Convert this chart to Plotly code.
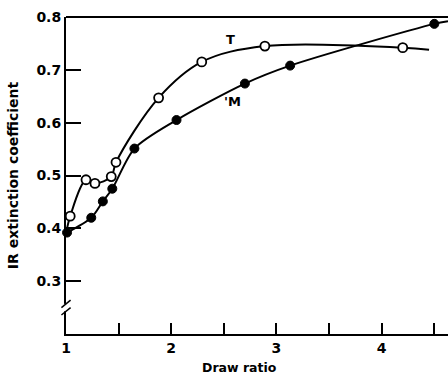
import plotly.graph_objects as go

# Data
t_x = [1.00, 1.04, 1.19, 1.275, 1.43, 1.475, 1.88, 2.29, 2.89, 4.20, 4.45]
t_y = [0.390, 0.423, 0.492, 0.485, 0.498, 0.525, 0.647, 0.715, 0.745, 0.742, 0.738]
t_marker = [False, True, True, True, True, True, True, True, True, True, False]

m_x = [1.01, 1.24, 1.35, 1.44, 1.65, 2.05, 2.70, 3.13, 4.50, 4.63]
m_y = [0.392, 0.420, 0.451, 0.475, 0.551, 0.605, 0.674, 0.708, 0.787, 0.792]
m_marker = [True, True, True, True, True, True, True, True, True, False]

x_tickvals = [1, 1.5, 2, 2.5, 3, 3.5, 4, 4.5]
x_ticktext = ["1", "", "2", "", "3", "", "4", ""]
y_tickvals = [0.3, 0.4, 0.5, 0.6, 0.7, 0.8]
y_ticktext = ["0.3", "0.4", "0.5", "0.6", "0.7", "0.8"]

FONT = "DejaVu Sans"

fig = go.Figure()

# T curve (open circles)
fig.add_trace(go.Scatter(x=t_x, y=t_y, mode="lines", line=dict(color="black", width=2, shape="spline", smoothing=1.0),
                         showlegend=False, hoverinfo="skip"))
fig.add_trace(go.Scatter(x=[x for x, k in zip(t_x, t_marker) if k], y=[y for y, k in zip(t_y, t_marker) if k],
                         mode="markers", marker=dict(symbol="circle", size=9, color="white",
                                                     line=dict(color="black", width=1.8)),
                         showlegend=False))
# M curve (filled circles)
fig.add_trace(go.Scatter(x=m_x, y=m_y, mode="lines", line=dict(color="black", width=2, shape="spline", smoothing=0.8),
                         showlegend=False, hoverinfo="skip"))
fig.add_trace(go.Scatter(x=[x for x, k in zip(m_x, m_marker) if k], y=[y for y, k in zip(m_y, m_marker) if k],
                         mode="markers", marker=dict(symbol="circle", size=9, color="black",
                                                     line=dict(color="black", width=1)),
                         showlegend=False, cliponaxis=False))

fig.update_layout(
    width=448, height=378,
    margin=dict(l=66, r=0, t=17, b=44),
    paper_bgcolor="white", plot_bgcolor="white",
    font=dict(family=FONT, color="black", size=13),
    xaxis=dict(range=[1, 4.63], showgrid=False, zeroline=False, showline=True, linecolor="black", linewidth=2,
               ticks="inside", ticklen=11, tickwidth=2, tickcolor="black",
               tickvals=x_tickvals, ticktext=x_ticktext,
               tickfont=dict(family=FONT, size=14, weight="bold")),
    yaxis=dict(range=[0.2, 0.8], showgrid=False, zeroline=False, showline=True, linecolor="black", linewidth=2,
               ticks="inside", ticklen=15, tickwidth=2, tickcolor="black",
               tickvals=y_tickvals, ticktext=y_ticktext,
               tickfont=dict(family=FONT, size=14, weight="bold"),
               title=dict(text="IR extinction coefficient", font=dict(family=FONT, size=14, weight="bold"), standoff=14)),
    shapes=[
        # top frame line
        dict(type="line", xref="paper", yref="paper", x0=0, x1=1, y0=1, y1=1, line=dict(color="black", width=2)),
        # axis break
        dict(type="rect", xref="paper", yref="y", x0=-0.01, x1=0.01, y0=0.243, y1=0.257,
             fillcolor="white", line=dict(width=0)),
        dict(type="line", xref="paper", yref="y", x0=-0.012, x1=0.012, y0=0.236, y1=0.250, line=dict(color="black", width=1.5)),
        dict(type="line", xref="paper", yref="y", x0=-0.012, x1=0.012, y0=0.250, y1=0.264, line=dict(color="black", width=1.5)),
    ],
    annotations=[
        dict(x=2.56, y=0.757, xref="x", yref="y", text="<b>T</b>", showarrow=False,
             font=dict(family=FONT, size=13)),
        dict(x=2.58, y=0.640, xref="x", yref="y", text="<b>'M</b>", showarrow=False,
             font=dict(family=FONT, size=13)),
        dict(x=0.455, y=-0.105, xref="paper", yref="paper", text="<b>Draw ratio</b>", showarrow=False,
             xanchor="center", yanchor="middle", font=dict(family=FONT, size=12.5)),
    ],
)

fig.write_html("out.html")
